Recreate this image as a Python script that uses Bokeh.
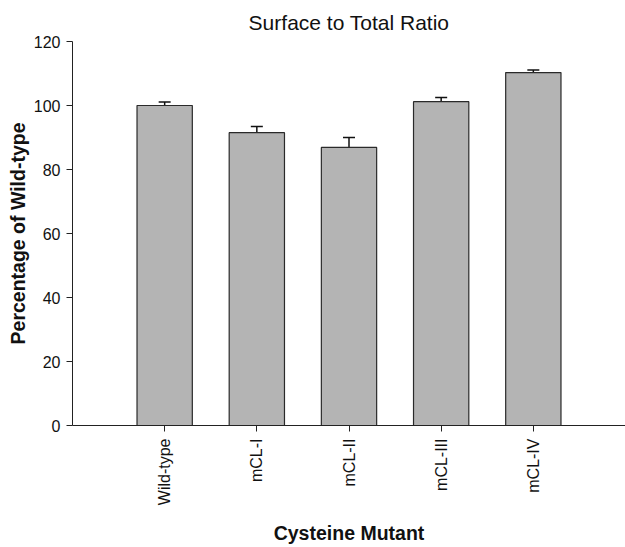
import math
from bokeh.plotting import figure
from bokeh.models import ColumnDataSource, Whisker, TeeHead, Range1d, FixedTicker
from bokeh.embed import file_html
from bokeh.resources import INLINE

categories = ["Wild-type", "mCL-I", "mCL-II", "mCL-III", "mCL-IV"]
values = [100.0, 91.5, 86.9, 101.2, 110.3]
errors = [1.1, 1.9, 3.1, 1.3, 0.8]
y_ticks = [0, 20, 40, 60, 80, 100, 120]

xs = list(range(len(categories)))
upper = [v + e for v, e in zip(values, errors)]
src = ColumnDataSource(dict(x=xs, top=values, upper=upper))

FONT = "Liberation Sans"

p = figure(width=625, height=547, output_backend="svg", toolbar_location=None,
           x_range=Range1d(-1, 5), y_range=Range1d(0, 120),
           min_border_left=72, min_border_right=0, min_border_top=41, min_border_bottom=119,
           title="Surface to Total Ratio")
p.title.align = "center"
p.title.text_font = FONT
p.title.text_font_style = "normal"
p.title.text_font_size = "21px"
p.title.text_color = "#111111"
p.title.standoff = 16
p.outline_line_color = None
p.grid.visible = False
p.background_fill_color = "white"
p.border_fill_color = "white"

p.vbar(x="x", top="top", width=0.6, bottom=0, source=src,
       fill_color="#b4b4b4", line_color="#2a2a2a", line_width=1.2)

w = Whisker(base="x", lower="top", upper="upper", source=src,
            line_color="#111111", line_width=1.5,
            upper_head=TeeHead(size=12, line_color="#111111", line_width=1.5),
            lower_head=None)
p.add_layout(w)

p.xaxis.ticker = FixedTicker(ticks=xs)
p.xaxis.major_label_overrides = {i: c for i, c in enumerate(categories)}
p.xaxis.major_label_orientation = math.pi / 2
p.xaxis.minor_tick_line_color = None
p.xaxis.axis_label = "Cysteine Mutant"
p.yaxis.ticker = FixedTicker(ticks=y_ticks)
p.yaxis.minor_tick_line_color = None
p.yaxis.axis_label = "Percentage of Wild-type"

for ax in (p.xaxis, p.yaxis):
    ax.axis_line_color = "#222222"
    ax.major_tick_line_color = "#222222"
    ax.major_tick_out = 6
    ax.major_tick_in = 0
    ax.major_label_text_font = FONT
    ax.major_label_text_font_size = "16px"
    ax.major_label_text_color = "#111111"
    ax.axis_label_text_font = FONT
    ax.axis_label_text_font_style = "bold"
    ax.axis_label_text_font_size = "19.5px"
    ax.axis_label_text_color = "#111111"

p.xaxis.major_label_standoff = 7
p.xaxis.axis_label_standoff = 14
p.yaxis.major_label_standoff = 6
p.yaxis.axis_label_standoff = 2

open("out.html", "w").write(file_html(p, INLINE))
